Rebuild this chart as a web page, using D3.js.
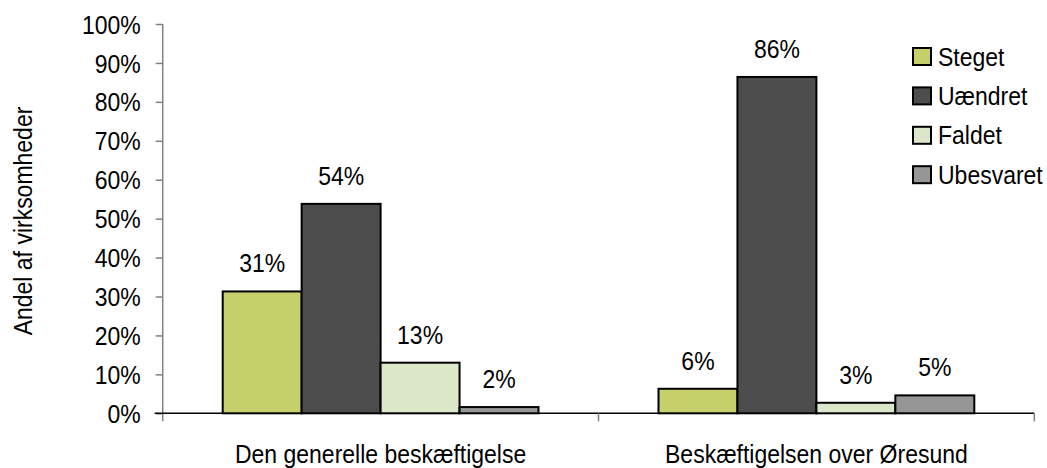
<!DOCTYPE html>
<html>
<head>
<meta charset="utf-8">
<script src="https://cdn.jsdelivr.net/npm/d3@7"></script>
<style>
  body { margin: 0; background: #fff; }
  text { font-family: Arial, "Liberation Sans", sans-serif; fill: #000; }
</style>
</head>
<body>
<div id="chart"></div>
<script>
// data
var groups = ["Den generelle beskæftigelse", "Beskæftigelsen over Øresund"];
var series = ["Steget", "Uændret", "Faldet", "Ubesvaret"];
var colors = ["#c5d06b", "#4d4d4d", "#dce6c9", "#969696"];
// percent values per group, in series order
var values = [
  [31.3, 53.8, 13.0, 1.6],
  [6.3, 86.4, 2.7, 4.6]
];
var yTicks = [0, 10, 20, 30, 40, 50, 60, 70, 80, 90, 100];
var yTitle = "Andel af virksomheder";

var width = 1047, height = 468;
var plot = {left: 162.7, right: 1034.3, top: 24, bottom: 413.3};
var fontSize = "23px";
var stretch = "scale(1,1.1)";   // the original text is a bit taller than Arial

var svg = d3.select("#chart").append("svg")
    .attr("width", width)
    .attr("height", height);

// put a text at (x,y) with the vertical stretch
function place(x, y) {
  return "translate(" + x + "," + y + ") " + stretch;
}

///////// scales

var x0 = d3.scaleBand()
    .domain(groups)
    .range([plot.left, plot.right])
    .padding(0);

var x1 = d3.scaleBand()
    .domain(series)
    .range([0, x0.bandwidth()])
    .paddingInner(0)
    .paddingOuter(0.76);

var y = d3.scaleLinear()
    .domain([0, 100])
    .range([plot.bottom, plot.top]);

var color = d3.scaleOrdinal().domain(series).range(colors);

///////// axes

var yAxis = d3.axisLeft(y)
    .tickValues(yTicks)
    .tickSize(7)
    .tickPadding(14)
    .tickFormat(function(d) { return d + "%"; });

var gY = svg.append("g")
    .attr("transform", "translate(" + plot.left + ",0)")
    .call(yAxis);
gY.select(".domain").attr("stroke", "#808080").attr("stroke-width", 1.5)
    .attr("d", "M0," + plot.top + "V" + (plot.bottom + 8));
gY.selectAll(".tick line").attr("stroke", "#808080").attr("stroke-width", 1.5);
gY.selectAll(".tick text")
    .style("font-size", fontSize)
    .attr("x", null)
    .attr("dy", "0.36em")
    .attr("transform", place(-22, 0));

var gX = svg.append("g")
    .attr("transform", "translate(0," + plot.bottom + ")");
gX.append("line")
    .attr("x1", plot.left - 8).attr("x2", plot.right)
    .attr("stroke", "#000").attr("stroke-width", 1.5);
gX.selectAll(".sep")
    .data(groups)
  .enter().append("line")
    .attr("class", "sep")
    .attr("x1", function(d) { return x0(d) + x0.bandwidth(); })
    .attr("x2", function(d) { return x0(d) + x0.bandwidth(); })
    .attr("y1", 0).attr("y2", 8)
    .attr("stroke", "#808080").attr("stroke-width", 1.5);
gX.selectAll(".glabel")
    .data(groups)
  .enter().append("text")
    .attr("class", "glabel")
    .attr("transform", function(d) { return place(x0(d) + x0.bandwidth() / 2, 50); })
    .attr("text-anchor", "middle")
    .style("font-size", fontSize)
    .text(function(d) { return d; });

///////// bars

var g = svg.selectAll(".group")
    .data(groups)
  .enter().append("g")
    .attr("class", "group")
    .attr("transform", function(d) { return "translate(" + x0(d) + ",0)"; });

function rows(d, i) {
  return series.map(function(s, j) { return {s: s, v: values[i][j]}; });
}

g.selectAll("rect")
    .data(rows)
  .enter().append("rect")
    .attr("x", function(d) { return x1(d.s); })
    .attr("y", function(d) { return y(d.v); })
    .attr("width", x1.bandwidth())
    .attr("height", function(d) { return y(0) - y(d.v); })
    .attr("fill", function(d) { return color(d.s); })
    .attr("stroke", "#000")
    .attr("stroke-width", 2);

g.selectAll(".val")
    .data(rows)
  .enter().append("text")
    .attr("class", "val")
    .attr("transform", function(d) { return place(x1(d.s) + x1.bandwidth() / 2, y(d.v) - 19); })
    .attr("text-anchor", "middle")
    .style("font-size", fontSize)
    .text(function(d) { return Math.round(d.v) + "%"; });

///////// y title

svg.append("text")
    .attr("transform", "translate(23,221) rotate(-90) " + stretch)
    .attr("text-anchor", "middle")
    .attr("dy", "0.35em")
    .style("font-size", fontSize)
    .text(yTitle);

///////// legend

var legend = svg.selectAll(".legend")
    .data(series)
  .enter().append("g")
    .attr("class", "legend")
    .attr("transform", function(d, i) { return "translate(913," + (48 + i * 39.4) + ")"; });

legend.append("rect")
    .attr("width", 18)
    .attr("height", 17)
    .attr("fill", color)
    .attr("stroke", "#000")
    .attr("stroke-width", 2);

legend.append("text")
    .attr("transform", place(25, 8.5))
    .attr("dy", "0.36em")
    .style("font-size", fontSize)
    .text(function(d) { return d; });
</script>
</body>
</html>
